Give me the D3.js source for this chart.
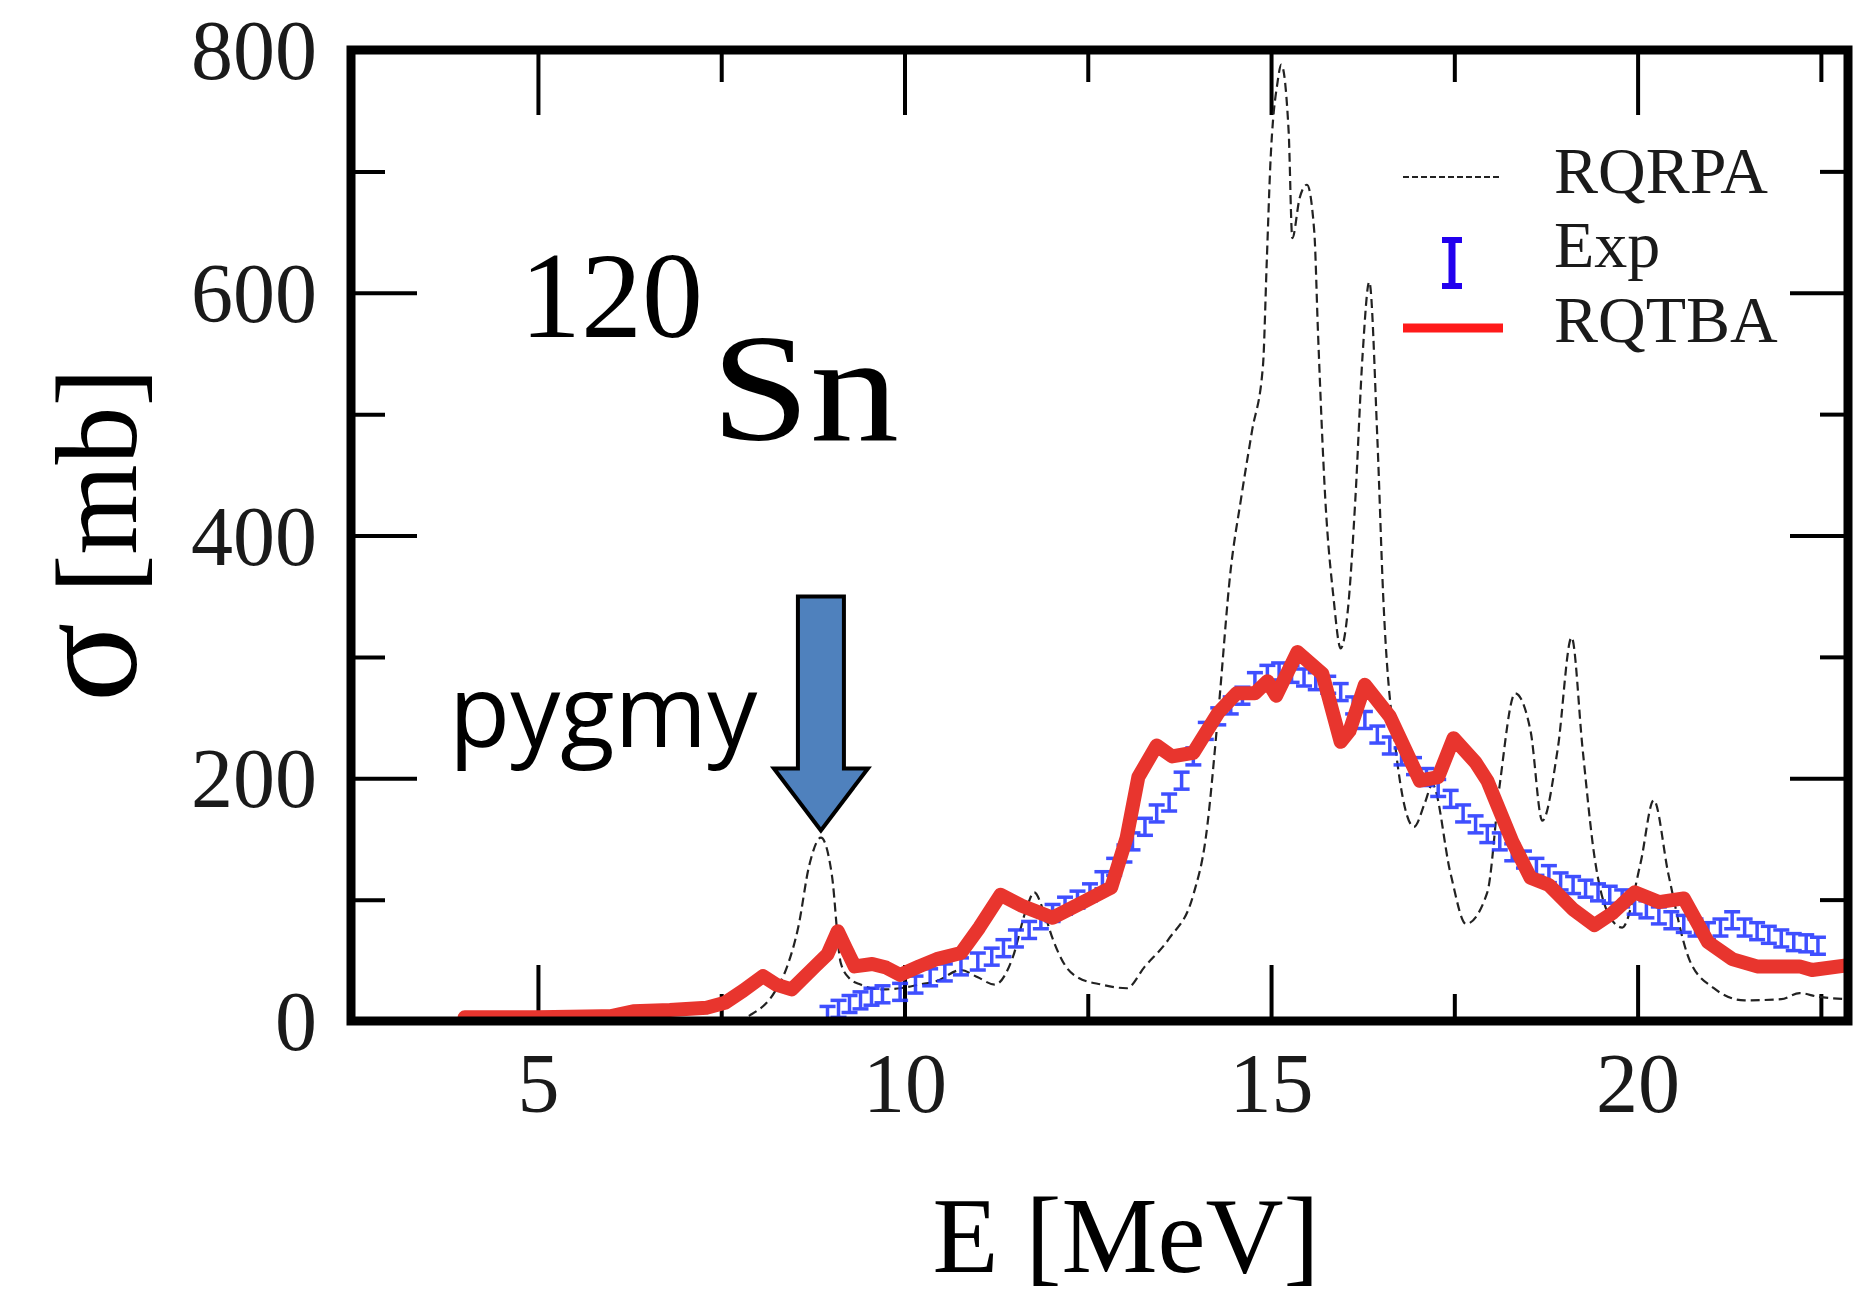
<!DOCTYPE html>
<html>
<head>
<meta charset="utf-8">
<script src="https://cdn.jsdelivr.net/npm/d3@7"></script>
<style>
  body { margin: 0; background: #fff; }
  svg { display: block; }
</style>
</head>
<body>
<script>
var W = 1854, H = 1299;

// RQRPA (dashed)
var rqrpaE = [7.7, 7.9, 8.23, 8.4, 8.55, 8.7, 8.86, 9.01, 9.13, 9.25, 9.4, 9.7, 9.94, 10.2, 10.44, 10.77, 11.0, 11.23, 11.48, 11.65, 11.77, 11.9, 12.02, 12.2, 12.36, 12.69, 13.03, 13.28, 13.61, 13.94, 14.11, 14.28, 14.45, 14.59, 14.74, 14.89, 14.94, 14.99, 15.09, 15.14, 15.24, 15.29, 15.39, 15.49, 15.59, 15.64, 15.74, 15.85, 15.95, 16.05, 16.15, 16.25, 16.34, 16.45, 16.53, 16.7, 16.95, 17.1, 17.2, 17.45, 17.66, 17.95, 18.12, 18.33, 18.54, 18.7, 18.91, 19.1, 19.25, 19.41, 19.62, 19.79, 20.04, 20.22, 20.42, 20.71, 21.04, 21.46, 21.96, 22.21, 22.46, 22.87];
var rqrpaS = [0, 5, 24, 45, 77, 128, 151, 120, 48, 35, 30, 26, 27, 30, 33, 42, 36, 30, 53, 90, 106, 90, 68, 45, 36, 30, 27, 45, 68, 104, 151, 254, 372, 430, 486, 540, 623, 705, 774, 788, 733, 645, 678, 689, 650, 568, 430, 350, 307, 340, 430, 550, 609, 480, 350, 224, 160, 180, 195, 121, 80, 106, 195, 270, 239, 165, 224, 316, 224, 136, 86, 77, 130, 182, 121, 50, 27, 17, 18, 23, 20, 18];

// RQTBA (thick red)
var rqtbaE = [4.0, 5.0, 6.0, 6.3, 6.8, 7.3, 7.55, 7.8, 8.07, 8.25, 8.46, 8.78, 8.95, 9.09, 9.2, 9.32, 9.56, 9.75, 9.94, 10.2, 10.44, 10.77, 11.02, 11.31, 11.6, 12.02, 12.44, 12.82, 13.03, 13.19, 13.44, 13.65, 13.94, 14.28, 14.53, 14.78, 14.95, 15.07, 15.36, 15.7, 15.95, 16.07, 16.28, 16.62, 17.03, 17.28, 17.49, 17.79, 17.95, 18.29, 18.54, 18.79, 19.12, 19.41, 19.66, 19.96, 20.29, 20.63, 20.96, 21.29, 21.63, 22.21, 22.38, 22.87];
var rqtbaS = [3, 3, 4, 8, 9, 11, 15, 25, 37, 30, 26, 45, 55, 74, 60, 45, 47, 44, 38, 45, 51, 56, 77, 104, 95, 85, 98, 110, 151, 201, 227, 218, 221, 254, 270, 270, 280, 268, 304, 286, 230, 239, 277, 251, 198, 201, 233, 213, 198, 148, 118, 112, 92, 79, 89, 106, 98, 101, 65, 51, 45, 45, 42, 46];

// Exp (error bars)
var expE = [8.95, 9.1, 9.25, 9.4, 9.55, 9.7, 9.94, 10.15, 10.35, 10.55, 10.77, 11.0, 11.19, 11.35, 11.52, 11.7, 11.86, 12.02, 12.19, 12.36, 12.53, 12.7, 12.86, 13.0, 13.11, 13.28, 13.44, 13.61, 13.78, 13.94, 14.11, 14.28, 14.45, 14.61, 14.78, 14.95, 15.11, 15.28, 15.45, 15.61, 15.78, 15.95, 16.12, 16.28, 16.45, 16.62, 16.78, 16.95, 17.12, 17.28, 17.45, 17.62, 17.79, 17.95, 18.12, 18.29, 18.45, 18.62, 18.79, 18.95, 19.12, 19.29, 19.46, 19.62, 19.79, 19.96, 20.12, 20.29, 20.46, 20.63, 20.79, 20.96, 21.13, 21.29, 21.46, 21.63, 21.79, 21.96, 22.13, 22.3, 22.46];
var expS = [5, 10, 14, 17, 20, 22, 24, 30, 36, 40, 45, 49, 53, 60, 68, 75, 83, 89, 95, 100, 106, 116, 127, 138, 148, 160, 171, 180, 198, 218, 239, 251, 260, 268, 280, 286, 288, 286, 283, 280, 277, 271, 260, 248, 236, 227, 218, 210, 201, 192, 183, 171, 162, 154, 148, 139, 133, 127, 121, 115, 112, 109, 106, 104, 101, 95, 92, 87, 83, 80, 77, 74, 77, 83, 77, 74, 71, 68, 65, 64, 62];
var expErr = 7;

var xMajor = [5, 10, 15, 20];
var xMinor = [7.5, 12.5, 17.5, 22.5];
var yMajor = [0, 200, 400, 600, 800];
var yMinor = [100, 300, 500, 700];

var legendNames = ["RQRPA", "Exp", "RQTBA"];

var x = d3.scaleLinear().domain([2.45, 22.87]).range([351, 1848]);
var y = d3.scaleLinear().domain([0, 800]).range([1021, 50]);

var svg = d3.select("body").append("svg")
    .attr("width", W)
    .attr("height", H);

svg.append("defs").append("clipPath").attr("id", "plot")
  .append("rect")
    .attr("x", x.range()[0]).attr("y", y.range()[1])
    .attr("width", x.range()[1] - x.range()[0])
    .attr("height", y.range()[0] - y.range()[1]);

var serif = "'Liberation Serif', 'Times New Roman', serif";

// axes (ticks inward)
function styleAxis(g) {
  g.select(".domain").remove();
  g.selectAll(".tick line").attr("stroke", "#000").attr("stroke-width", 4);
  g.selectAll("text").attr("font-family", serif).attr("font-size", 84).attr("fill", "#1a1a1a");
}

svg.append("g").attr("transform", "translate(0," + y(0) + ")")
    .call(d3.axisBottom(x).tickValues(xMajor).tickSize(-56).tickFormat(d3.format("d")))
    .call(styleAxis)
    .call(function(g) { g.selectAll("text").attr("y", 91).attr("dy", 0); });
svg.append("g").attr("transform", "translate(0," + y(0) + ")")
    .call(d3.axisBottom(x).tickValues(xMinor).tickSize(-27).tickFormat(""))
    .call(styleAxis);
svg.append("g").attr("transform", "translate(0," + y(800) + ")")
    .call(d3.axisTop(x).tickValues(xMajor).tickSize(-65).tickFormat(""))
    .call(styleAxis);
svg.append("g").attr("transform", "translate(0," + y(800) + ")")
    .call(d3.axisTop(x).tickValues(xMinor).tickSize(-32).tickFormat(""))
    .call(styleAxis);
svg.append("g").attr("transform", "translate(" + x.range()[0] + ",0)")
    .call(d3.axisLeft(y).tickValues(yMajor).tickSize(-66).tickFormat(d3.format("d")))
    .call(styleAxis)
    .call(function(g) { g.selectAll("text").attr("x", -34).attr("dy", "0.34em"); });
svg.append("g").attr("transform", "translate(" + x.range()[0] + ",0)")
    .call(d3.axisLeft(y).tickValues(yMinor).tickSize(-34).tickFormat(""))
    .call(styleAxis);
svg.append("g").attr("transform", "translate(" + x.range()[1] + ",0)")
    .call(d3.axisRight(y).tickValues(yMajor).tickSize(-58).tickFormat(""))
    .call(styleAxis);
svg.append("g").attr("transform", "translate(" + x.range()[1] + ",0)")
    .call(d3.axisRight(y).tickValues(yMinor).tickSize(-28).tickFormat(""))
    .call(styleAxis);

var plot = svg.append("g").attr("clip-path", "url(#plot)");

// RQRPA dashed
var rqrpa = d3.zip(rqrpaE, rqrpaS);
plot.append("path")
    .datum(rqrpa)
    .attr("fill", "none")
    .attr("stroke", "#222")
    .attr("stroke-width", 2.2)
    .attr("stroke-dasharray", "9,5")
    .attr("d", d3.line().x(function(d) { return x(d[0]); }).y(function(d) { return y(d[1]); })
      .curve(d3.curveMonotoneX));

// Exp error bars
var exp = d3.zip(expE, expS);
var bars = plot.append("g")
    .attr("stroke", "#2a3cff")
    .attr("stroke-width", 3.5)
    .attr("opacity", 0.9)
  .selectAll("g")
  .data(exp)
  .join("g")
    .attr("transform", function(d) { return "translate(" + x(d[0]) + ",0)"; });
bars.append("line")
    .attr("y1", function(d) { return y(d[1] - expErr); })
    .attr("y2", function(d) { return y(d[1] + expErr); });
bars.append("line")
    .attr("x1", -8).attr("x2", 8)
    .attr("y1", function(d) { return y(d[1] - expErr); })
    .attr("y2", function(d) { return y(d[1] - expErr); });
bars.append("line")
    .attr("x1", -8).attr("x2", 8)
    .attr("y1", function(d) { return y(d[1] + expErr); })
    .attr("y2", function(d) { return y(d[1] + expErr); });

// RQTBA red
var rqtba = d3.zip(rqtbaE, rqtbaS);
plot.append("path")
    .datum(rqtba)
    .attr("fill", "none")
    .attr("stroke", "#e8352e")
    .attr("stroke-width", 14)
    .attr("stroke-linejoin", "round")
    .attr("stroke-linecap", "round")
    .attr("d", d3.line().x(function(d) { return x(d[0]); }).y(function(d) { return y(d[1]); }));

// frame
svg.append("rect")
    .attr("x", x.range()[0]).attr("y", y.range()[1])
    .attr("width", x.range()[1] - x.range()[0])
    .attr("height", y.range()[0] - y.range()[1])
    .attr("fill", "none")
    .attr("stroke", "#000")
    .attr("stroke-width", 9);

// axis titles
svg.append("text")
    .attr("x", 1126).attr("y", 1272)
    .attr("text-anchor", "middle")
    .attr("font-family", serif).attr("font-size", 108)
    .text("E [MeV]");

var yt = svg.append("text")
    .attr("transform", "translate(136,535) rotate(-90)")
    .attr("text-anchor", "middle")
    .attr("font-family", serif).attr("font-size", 116);
yt.append("tspan").attr("font-size", 148).text("σ");
yt.append("tspan").text(" [mb]");

// nucleus label
svg.append("text")
    .attr("x", 520).attr("y", 337)
    .attr("font-family", serif).attr("font-size", 122)
    .text("120");
svg.append("text")
    .attr("x", 711).attr("y", 440)
    .attr("font-family", serif).attr("font-size", 152)
    .attr("textLength", 188).attr("lengthAdjust", "spacingAndGlyphs")
    .text("Sn");

// pygmy arrow
var tipX = x(8.86), tipY = y(157);
svg.append("path")
    .attr("d", "M" + tipX + "," + tipY +
      " l-47,-62 l24,0 l0,-172 l46,0 l0,172 l24,0 Z")
    .attr("fill", "#4f81bd")
    .attr("stroke", "#000")
    .attr("stroke-width", 4)
    .attr("stroke-linejoin", "miter");
svg.append("text")
    .attr("x", 449).attr("y", 747)
    .attr("font-family", "'Open Sans', sans-serif").attr("font-size", 100)
    .text("pygmy");

// legend
var lg = svg.append("g").attr("font-family", serif).attr("font-size", 66).attr("fill", "#1a1a1a");
lg.append("line").attr("x1", 1403).attr("x2", 1502).attr("y1", 177).attr("y2", 177)
    .attr("stroke", "#222").attr("stroke-width", 2.2).attr("stroke-dasharray", "6,3");
lg.append("line").attr("x1", 1452).attr("x2", 1452).attr("y1", 240).attr("y2", 286)
    .attr("stroke", "#2200ee").attr("stroke-width", 7);
lg.append("line").attr("x1", 1442).attr("x2", 1462).attr("y1", 240).attr("y2", 240)
    .attr("stroke", "#2200ee").attr("stroke-width", 6);
lg.append("line").attr("x1", 1442).attr("x2", 1462).attr("y1", 286).attr("y2", 286)
    .attr("stroke", "#2200ee").attr("stroke-width", 6);
lg.append("line").attr("x1", 1403).attr("x2", 1503).attr("y1", 328).attr("y2", 328)
    .attr("stroke", "#ff1a1a").attr("stroke-width", 9);
lg.selectAll("text.lab").data(legendNames).join("text")
    .attr("class", "lab")
    .attr("x", 1554)
    .attr("y", function(d, i) { return [193, 267, 342][i]; })
    .text(function(d) { return d; });
</script>
</body>
</html>
